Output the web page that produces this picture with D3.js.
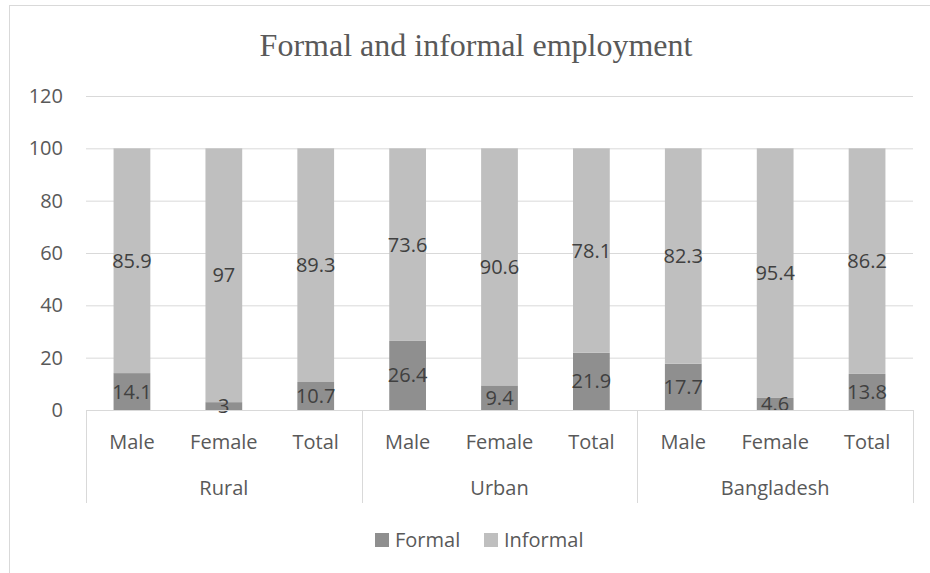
<!DOCTYPE html>
<html lang="en">
<head>
<meta charset="UTF-8">
<title>Formal and informal employment</title>
<script src="https://d3js.org/d3.v7.min.js"></script>
<style>
  body { margin: 0; background: #fff; }
  svg { font-family: "Open Sans", "Liberation Sans", sans-serif; }
</style>
</head>
<body>
<svg id="chart" width="930" height="573"></svg>
<script>
const groups = ["Rural", "Urban", "Bangladesh"];
const sexes = ["Male", "Female", "Total"];
const formal = [14.1, 3, 10.7, 26.4, 9.4, 21.9, 17.7, 4.6, 13.8];
const informal = [85.9, 97, 89.3, 73.6, 90.6, 78.1, 82.3, 95.4, 86.2];
const yTicks = [0, 20, 40, 60, 80, 100, 120];
const seriesNames = ["Formal", "Informal"];
const colors = ["#8f8f8f", "#bfbfbf"];

const svg = d3.select("#chart");
const margin = { top: 96, right: 17, bottom: 163, left: 86 };
const width = 930 - margin.left - margin.right,
      height = 573 - margin.top - margin.bottom;
const fs = 20;

// chart border
svg.append("rect")
  .attr("x", 9.5).attr("y", 5.5)
  .attr("width", 940).attr("height", 600)
  .attr("fill", "none").attr("stroke", "#d9d9d9");

svg.append("text")
  .attr("x", 476).attr("y", 56)
  .attr("text-anchor", "middle")
  .attr("font-family", "'Liberation Serif', 'Times New Roman', serif")
  .attr("font-size", 32)
  .attr("fill", "#595959")
  .text("Formal and informal employment");

const keys = [];
groups.forEach(g => sexes.forEach(s => keys.push(g + "|" + s)));

const rows = keys.map((k, i) => ({ key: k, Formal: formal[i], Informal: informal[i] }));
const stacked = d3.stack().keys(seriesNames)(rows);

const x = d3.scaleBand().domain(keys).range([0, width]).paddingInner(0.6).paddingOuter(0.3);
const y = d3.scaleLinear().domain([0, 120]).range([height, 0]);

const g = svg.append("g").attr("transform", `translate(${margin.left},${margin.top})`);

// gridlines + y labels
const yAxis = g.append("g")
  .call(d3.axisLeft(y).tickValues(yTicks).tickSize(-width).tickPadding(23));
yAxis.select(".domain").remove();
yAxis.selectAll(".tick line").attr("stroke", "#d9d9d9");
yAxis.selectAll(".tick text").attr("fill", "#595959").attr("font-size", fs)
  .attr("font-family", "'Open Sans', sans-serif");

// bars
stacked.forEach((s, si) => {
  g.append("g").selectAll("rect")
    .data(s)
    .enter().append("rect")
    .attr("x", d => x(d.data.key))
    .attr("y", d => y(d[1]))
    .attr("width", x.bandwidth())
    .attr("height", d => y(d[0]) - y(d[1]))
    .attr("fill", colors[si]);
});

// data labels
stacked.forEach(s => {
  g.append("g").selectAll("text")
    .data(s)
    .enter().append("text")
    .attr("x", d => x(d.data.key) + x.bandwidth() / 2)
    .attr("y", d => y((d[0] + d[1]) / 2))
    .attr("dy", "0.35em")
    .attr("text-anchor", "middle")
    .attr("font-size", fs)
    .attr("fill", "#404040")
    .text(d => d.data[s.key]);
});

// category axis (two levels)
const axisCol = "#d9d9d9";
g.append("line").attr("x1", 0).attr("x2", width)
  .attr("y1", height + 0.5).attr("y2", height + 0.5).attr("stroke", axisCol);

const gx = d3.scaleBand().domain(groups).range([0, width]);

[0, ...groups.map(d => gx(d) + gx.bandwidth())].forEach(px => {
  g.append("line")
    .attr("x1", Math.round(px) + 0.5).attr("x2", Math.round(px) + 0.5)
    .attr("y1", height).attr("y2", height + 93)
    .attr("stroke", axisCol);
});

g.append("g").selectAll("text")
  .data(keys)
  .enter().append("text")
  .attr("x", d => x(d) + x.bandwidth() / 2)
  .attr("y", height + 39)
  .attr("text-anchor", "middle")
  .attr("font-size", fs)
  .attr("fill", "#595959")
  .text(d => d.split("|")[1]);

g.append("g").selectAll("text")
  .data(groups)
  .enter().append("text")
  .attr("x", d => gx(d) + gx.bandwidth() / 2)
  .attr("y", height + 85)
  .attr("text-anchor", "middle")
  .attr("font-size", fs)
  .attr("fill", "#595959")
  .text(d => d);

// legend
const legendX = [375, 484];
seriesNames.forEach((name, i) => {
  svg.append("rect")
    .attr("x", legendX[i]).attr("y", 533)
    .attr("width", 14).attr("height", 14)
    .attr("fill", colors[i]);
  svg.append("text")
    .attr("x", legendX[i] + 20).attr("y", 547)
    .attr("font-size", fs)
    .attr("fill", "#595959")
    .text(name);
});
</script>
</body>
</html>
